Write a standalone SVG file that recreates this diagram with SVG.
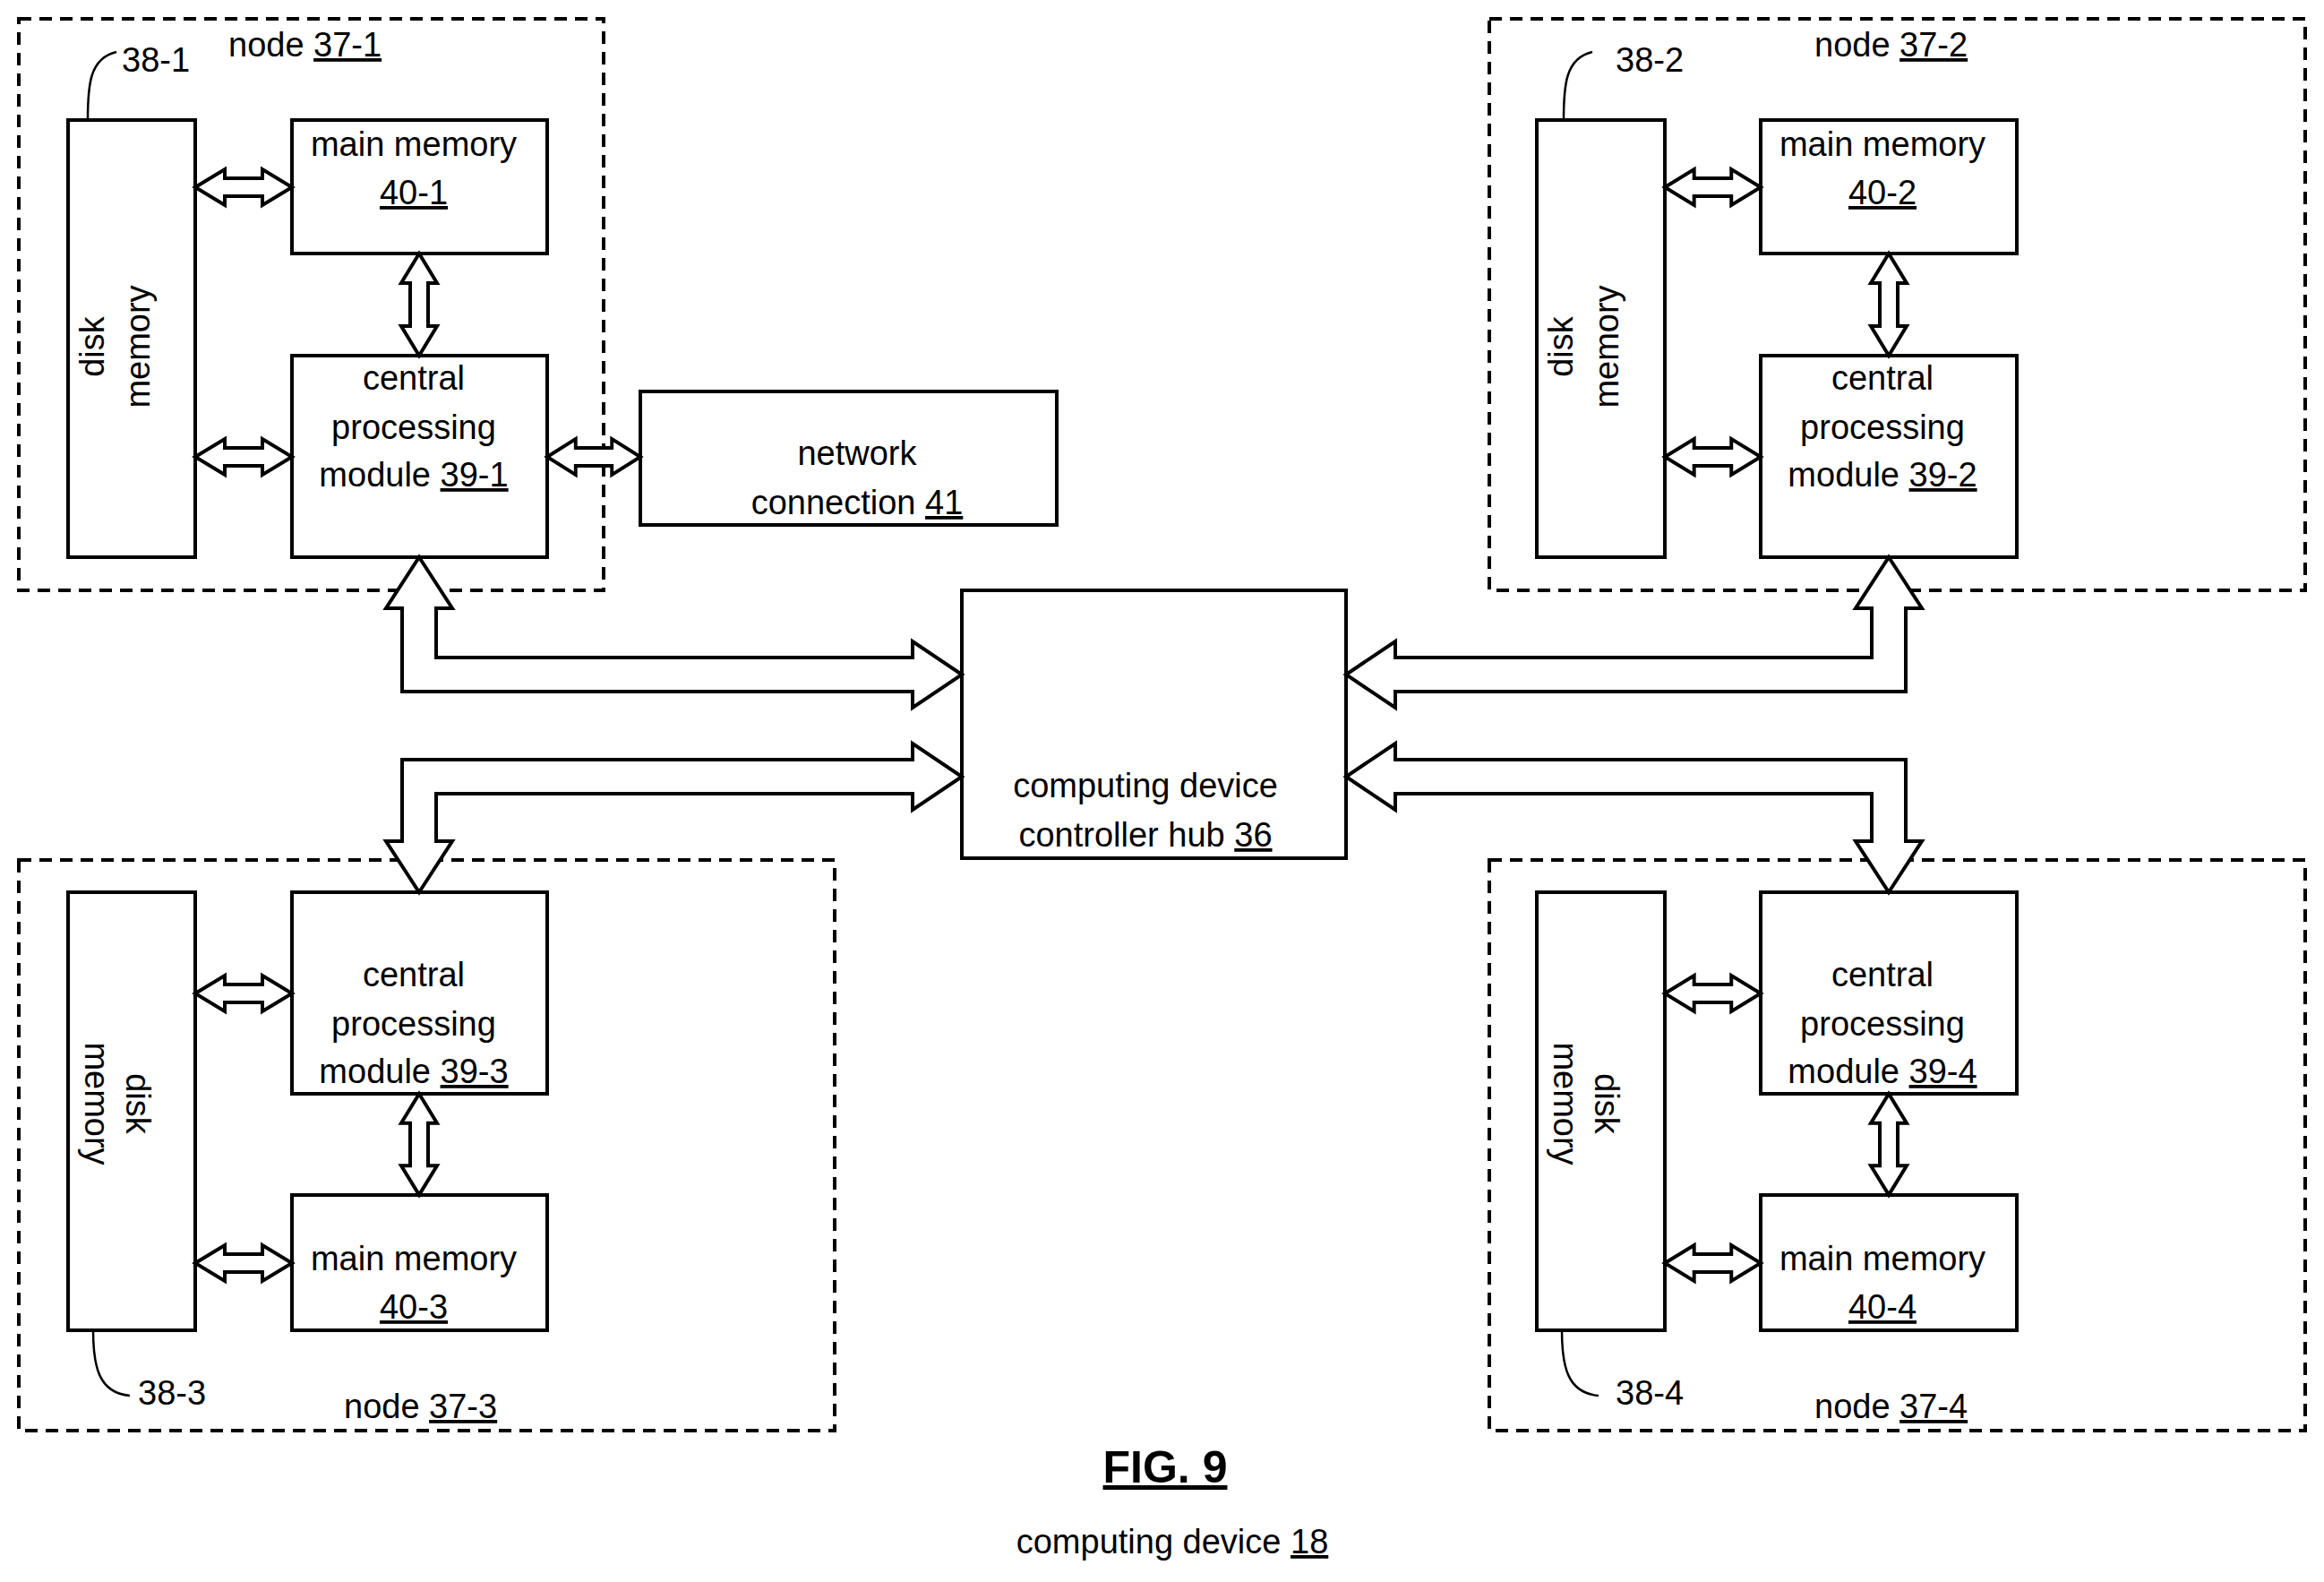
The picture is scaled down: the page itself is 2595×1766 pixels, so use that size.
<svg xmlns="http://www.w3.org/2000/svg" width="2595" height="1766" viewBox="0 0 2595 1766">
<style>
.b{fill:#fff;stroke:#000;stroke-width:4}
.d{fill:none;stroke:#000;stroke-width:4;stroke-dasharray:14 9}
.a{fill:#fff;stroke:#000;stroke-width:4;stroke-linejoin:miter}
.l{fill:none;stroke:#000;stroke-width:2.5}
text{font-family:"Liberation Sans",Arial,sans-serif;font-size:38px;fill:#000}
.c{text-anchor:middle}
.u{text-decoration:underline}
</style>
<defs>
<path id="h" class="a" d="M0,0 L33,-20 L33,-10 L75,-10 L75,-20 L108,0 L75,20 L75,10 L33,10 L33,20 Z"/>
<path id="v" class="a" d="M0,0 L20,33 L10,33 L10,81 L20,81 L0,114 L-20,81 L-10,81 L-10,33 L-20,33 Z"/>
</defs>
<rect width="2595" height="1766" fill="#fff"/>
<g id="node37-1">
<rect class="d" x="21" y="21" width="653" height="638"/>
<text x="255" y="63">node <tspan class="u">37-1</tspan></text>
<path class="l" d="M98,134 C98,95 100,65 130,58"/>
<text x="136" y="80">38-1</text>
<rect class="b" x="76" y="134" width="142" height="488"/>
<text class="c" transform="translate(116,387) rotate(-90)">disk<tspan x="0" dy="51">memory</tspan></text>
<rect class="b" x="326" y="134" width="285" height="149"/>
<text class="c" x="462" y="174">main memory</text><text class="c u" x="462" y="228">40-1</text>
<rect class="b" x="326" y="397" width="285" height="225"/>
<text class="c" x="462" y="435">central</text><text class="c" x="462" y="490">processing</text><text class="c" x="462" y="543">module <tspan class="u">39-1</tspan></text>
</g>
<g id="node37-2">
<rect class="d" x="1663" y="21" width="911" height="638"/>
<text x="2026" y="63">node <tspan class="u">37-2</tspan></text>
<path class="l" d="M1746,134 C1746,95 1748,65 1778,58"/>
<text x="1804" y="80">38-2</text>
<rect class="b" x="1716" y="134" width="143" height="488"/>
<text class="c" transform="translate(1756,387) rotate(-90)">disk<tspan x="0" dy="51">memory</tspan></text>
<rect class="b" x="1966" y="134" width="286" height="149"/>
<text class="c" x="2102" y="174">main memory</text><text class="c u" x="2102" y="228">40-2</text>
<rect class="b" x="1966" y="397" width="286" height="225"/>
<text class="c" x="2102" y="435">central</text><text class="c" x="2102" y="490">processing</text><text class="c" x="2102" y="543">module <tspan class="u">39-2</tspan></text>
</g>
<g id="node37-3">
<rect class="d" x="21" y="960" width="911" height="637"/>
<text x="384" y="1583">node <tspan class="u">37-3</tspan></text>
<path class="l" d="M104,1485 C104,1525 110,1555 145,1558"/>
<text x="154" y="1568">38-3</text>
<rect class="b" x="76" y="996" width="142" height="489"/>
<text class="c" transform="translate(141,1232) rotate(90)">disk<tspan x="0" dy="46">memory</tspan></text>
<rect class="b" x="326" y="996" width="285" height="225"/>
<text class="c" x="462" y="1101">central</text><text class="c" x="462" y="1156">processing</text><text class="c" x="462" y="1209">module <tspan class="u">39-3</tspan></text>
<rect class="b" x="326" y="1334" width="285" height="151"/>
<text class="c" x="462" y="1418">main memory</text><text class="c u" x="462" y="1472">40-3</text>
</g>
<g id="node37-4">
<rect class="d" x="1663" y="960" width="911" height="637"/>
<text x="2026" y="1583">node <tspan class="u">37-4</tspan></text>
<path class="l" d="M1744,1485 C1744,1525 1750,1555 1785,1558"/>
<text x="1804" y="1568">38-4</text>
<rect class="b" x="1716" y="996" width="143" height="489"/>
<text class="c" transform="translate(1781,1232) rotate(90)">disk<tspan x="0" dy="46">memory</tspan></text>
<rect class="b" x="1966" y="996" width="286" height="225"/>
<text class="c" x="2102" y="1101">central</text><text class="c" x="2102" y="1156">processing</text><text class="c" x="2102" y="1209">module <tspan class="u">39-4</tspan></text>
<rect class="b" x="1966" y="1334" width="286" height="151"/>
<text class="c" x="2102" y="1418">main memory</text><text class="c u" x="2102" y="1472">40-4</text>
</g>
<g id="network41">
<rect class="b" x="715" y="437" width="465" height="149"/>
<text class="c" x="957" y="519">network</text><text class="c" x="957" y="574">connection <tspan class="u">41</tspan></text>
</g>
<g id="hub36">
<rect class="b" x="1074" y="659" width="429" height="299"/>
<text class="c" x="1279" y="890">computing device</text><text class="c" x="1279" y="945">controller hub <tspan class="u">36</tspan></text>
</g>
<g id="connectors">
<use href="#h" x="218" y="209"/>
<use href="#h" x="218" y="510"/>
<use href="#v" x="468" y="283"/>
<use href="#h" x="611" y="510" transform="translate(611,0) scale(0.963,1) translate(-611,0)"/>
<use href="#h" x="1859" y="209" transform="translate(1859,0) scale(0.99,1) translate(-1859,0)"/>
<use href="#h" x="1859" y="510" transform="translate(1859,0) scale(0.99,1) translate(-1859,0)"/>
<use href="#v" x="2109" y="283"/>
<use href="#h" x="218" y="1109"/>
<use href="#h" x="218" y="1410"/>
<use href="#v" x="468" y="1221" transform="translate(0,1221) scale(1,0.99) translate(0,-1221)"/>
<use href="#h" x="1859" y="1109" transform="translate(1859,0) scale(0.99,1) translate(-1859,0)"/>
<use href="#h" x="1859" y="1410" transform="translate(1859,0) scale(0.99,1) translate(-1859,0)"/>
<use href="#v" x="2109" y="1221" transform="translate(0,1221) scale(1,0.99) translate(0,-1221)"/>
<path class="a" d="M468,622 L505,679 L487,679 L487,734 L1019,734 L1019,716 L1074,753 L1019,790 L1019,772 L449,772 L449,679 L431,679 Z"/>
<path class="a" d="M468,996 L505,939 L487,939 L487,886 L1019,886 L1019,904 L1074,867 L1019,830 L1019,848 L449,848 L449,939 L431,939 Z"/>
<path class="a" d="M2109,622 L2146,679 L2128,679 L2128,772 L1558,772 L1558,790 L1503,753 L1558,716 L1558,734 L2090,734 L2090,679 L2072,679 Z"/>
<path class="a" d="M2109,996 L2146,939 L2128,939 L2128,848 L1558,848 L1558,830 L1503,867 L1558,904 L1558,886 L2090,886 L2090,939 L2072,939 Z"/>
</g>
<text class="c u" x="1301" y="1655" style="font-weight:bold;font-size:50px">FIG. 9</text>
<text class="c" x="1309" y="1734">computing device <tspan class="u">18</tspan></text>
</svg>
